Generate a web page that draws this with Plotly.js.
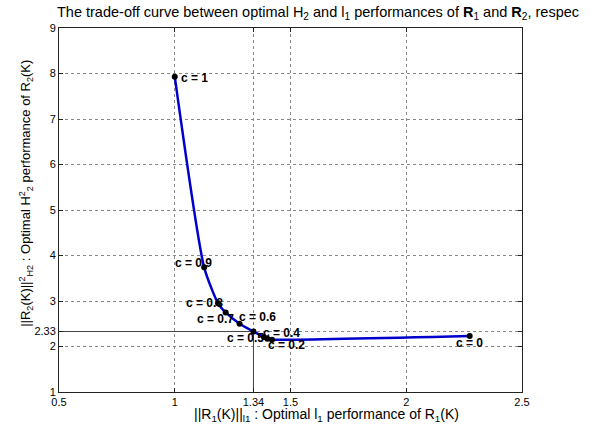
<!DOCTYPE html>
<html>
<head>
<meta charset="utf-8">
<script src="https://cdn.plot.ly/plotly-3.0.1.min.js"></script>
<style>html,body{margin:0;padding:0;background:#fff}#chart{width:597px;height:425px}</style>
</head>
<body>
<div id="chart"></div>
<script>
// Data
var cLabels = ['c = 1','c = 0.9','c = 0.8','c = 0.7','c = 0.6','c = 0.5','c = 0.4','c = 0.3','c = 0.2','c = 0'];
var showLabel = [true,true,true,true,true,true,true,false,true,true];
var l1Perf = [1.00, 1.127, 1.187, 1.22, 1.28, 1.34, 1.385, 1.40, 1.42, 2.274];
var h2Perf = [7.93, 3.74, 2.95, 2.75, 2.50, 2.33, 2.21, 2.17, 2.15, 2.23];
var labelDx = [20, -11, -14, -10, 18, -8, 18, 0, 15, 0];
var labelDy = [-1, 4, 0, -7, 7, -7, 4, 0, -5, -7];
var refX = 1.34, refY = 2.33;
var xTicks = [0.5, 1, 1.34, 1.5, 2, 2.5];
var xTickText = ['0.5','1','1.34','1.5','2','2.5'];
var yTicks = [1, 2, 2.33, 3, 4, 5, 6, 7, 8, 9];
var yTickText = ['1','2','2.33','3','4','5','6','7','8','9'];

var font = 'Liberation Sans, Arial, sans-serif';

var traces = [
  {x:[0.5, refX], y:[refY, refY], mode:'lines', line:{color:'#444', width:1}, hoverinfo:'skip'},
  {x:[refX, refX], y:[1, refY], mode:'lines', line:{color:'#444', width:1}, hoverinfo:'skip'},
  {x:l1Perf, y:h2Perf, mode:'lines', line:{color:'#0000cc', width:2.5, shape:'spline', smoothing:0.6}, hoverinfo:'skip'},
  {x:l1Perf, y:h2Perf, mode:'markers', marker:{color:'#000', size:6}, hoverinfo:'skip'}
];

var annotations = [];
for (var i = 0; i < cLabels.length; i++) {
  if (!showLabel[i]) continue;
  annotations.push({x:l1Perf[i], y:h2Perf[i], xref:'x', yref:'y', text:'<b>'+cLabels[i]+'</b>',
    showarrow:false, xanchor:'center', yanchor:'middle', xshift:labelDx[i], yshift:labelDy[i],
    font:{family:font, size:12, color:'#000'}});
}
annotations.push({xref:'paper', yref:'paper', x:0.577, y:-0.062, xanchor:'center', yanchor:'middle',
  text:'||R<sub>1</sub>(K)||<sub>l1</sub> : Optimal l<sub>1</sub> performance of R<sub>1</sub>(K)',
  showarrow:false, font:{family:font, size:14, color:'#000'}});
annotations.push({xref:'paper', yref:'paper', x:-0.073, y:0.545, xanchor:'center', yanchor:'middle', textangle:-90,
  text:'||R<sub>2</sub>(K)||<sup>2</sup><sub>H2</sub> : Optimal H<sup>2</sup><sub>2</sub> performance of R<sub>2</sub>(K)',
  showarrow:false, font:{family:font, size:13, color:'#000'}});

var axisCommon = {
  showline:true, mirror:'ticks', linecolor:'#222', linewidth:1,
  ticks:'inside', ticklen:4, tickcolor:'#222',
  showgrid:true, gridcolor:'#888', griddash:'dot', gridwidth:1,
  zeroline:false, tickfont:{family:font, size:11, color:'#000'}, tickmode:'array'
};

var layout = {
  width:597, height:425,
  margin:{l:59, r:75, t:28, b:33},
  paper_bgcolor:'#fff', plot_bgcolor:'#fff',
  showlegend:false,
  title:{text:'The trade-off curve between optimal H<sub>2</sub> and l<sub>1</sub> performances of <b>R</b><sub>1</sub> and <b>R</b><sub>2</sub>, respec',
    x:57/597, xanchor:'left', xref:'container', y:1-12/425, yanchor:'middle', yref:'container',
    font:{family:font, size:14.5, color:'#000'}},
  xaxis:Object.assign({}, axisCommon, {range:[0.5,2.5], tickvals:xTicks, ticktext:xTickText}),
  yaxis:Object.assign({}, axisCommon, {range:[1,9], tickvals:yTicks, ticktext:yTickText}),
  annotations:annotations
};

Plotly.newPlot('chart', traces, layout, {displayModeBar:false, staticPlot:true});
</script>
</body>
</html>
